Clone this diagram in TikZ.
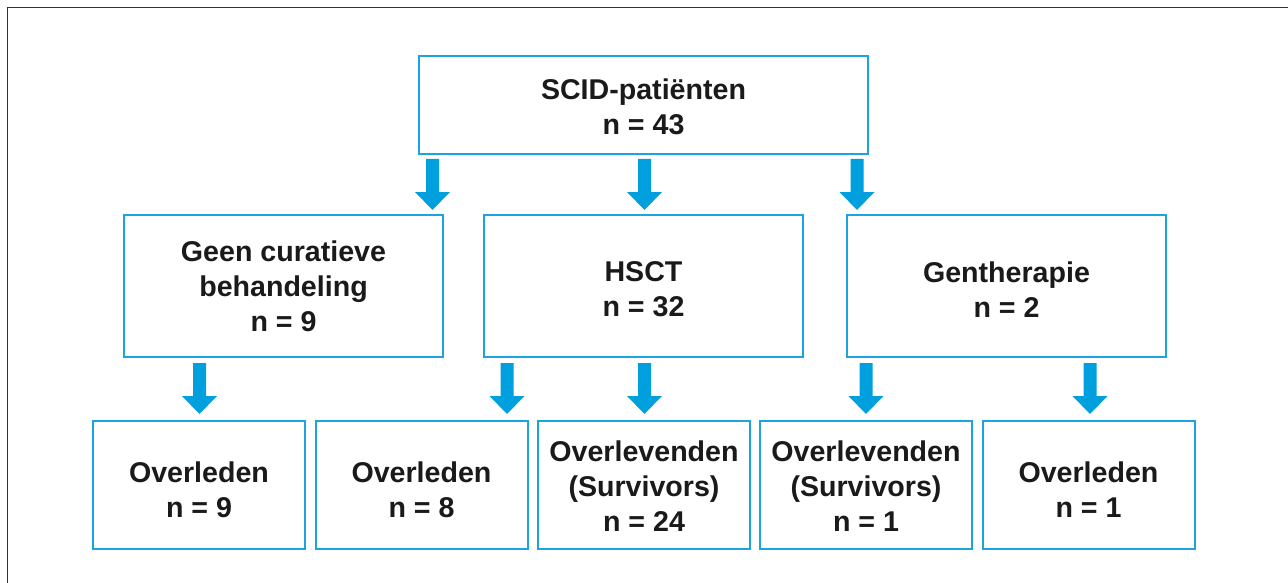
\documentclass[tikz,border=0pt]{standalone}
\usepackage{fontspec}
\setmainfont{Liberation Sans}
\definecolor{boxc}{HTML}{1DA3E0}
\definecolor{arrc}{HTML}{009FDE}
\definecolor{framec}{HTML}{333333}
\definecolor{txtc}{HTML}{1A1A1A}
\tikzset{
  fbox/.style={draw=boxc, line width=2pt, fill=white, inner sep=0pt},
  topbox/.style={fbox, minimum width=449pt, minimum height=98pt},
  midbox/.style={fbox, minimum width=319pt, minimum height=142pt},
  botbox/.style={fbox, minimum width=212pt, minimum height=128pt},
  txt/.style={align=center, inner sep=0pt, text=txtc,
    font=\fontsize{28.6}{35.2}\selectfont\bfseries},
  blockarr/.style={fill=arrc, draw=none}
}
\newcommand\bluearrow[2]{%
  \fill[blockarr] (#1-6.5,#2) -- (#1+6.5,#2) -- (#1+6.5,#2+33) -- (#1+17.5,#2+33)
    -- (#1,#2+51) -- (#1-17.5,#2+33) -- (#1-6.5,#2+33) -- cycle;}
\begin{document}
\begin{tikzpicture}[x=1pt,y=-1pt]
\useasboundingbox (0,0) rectangle (1288,583);
\fill[white] (0,0) rectangle (1288,583);
\draw[framec, line width=1.3pt] (7.5,583) -- (7.5,7.5) -- (1288,7.5);
% top
\node[topbox] (top) at (643.5,105) {};
\node[txt] (toptxt) at ([yshift=-2pt]top.center) {SCID-patiënten\\n = 43};
% middle
\node[midbox] (geen) at (283.5,286) {};
\node[midbox] (hsct) at (643.5,286) {};
\node[midbox] (gen) at (1006.5,286) {};
\node[txt] (geentxt) at ([yshift=-0.5pt]geen.center) {Geen curatieve\\behandeling\\n = 9};
\node[txt] (hscttxt) at ([yshift=-3.5pt]hsct.center) {HSCT\\n = 32};
\node[txt] (gentxt) at ([yshift=-3.5pt]gen.center) {Gentherapie\\n = 2};
% bottom
\node[botbox] (b1) at (199,485) {};
\node[botbox] (b2) at (421.5,485) {};
\node[botbox] (b3) at (644,485) {};
\node[botbox] (b4) at (866,485) {};
\node[botbox] (b5) at (1088.5,485) {};
\node[txt] (b1txt) at ([yshift=-4.5pt]b1.center) {Overleden\\n = 9};
\node[txt] (b2txt) at ([yshift=-4.5pt]b2.center) {Overleden\\n = 8};
\node[txt] (b3txt) at ([yshift=-1pt]b3.center) {Overlevenden\\(Survivors)\\n = 24};
\node[txt] (b4txt) at ([yshift=-1pt]b4.center) {Overlevenden\\(Survivors)\\n = 1};
\node[txt] (b5txt) at ([yshift=-4.5pt]b5.center) {Overleden\\n = 1};
% arrows
\bluearrow{432.5}{159}
\bluearrow{644.5}{159}
\bluearrow{857}{159}
\bluearrow{199.5}{363}
\bluearrow{507}{363}
\bluearrow{644.5}{363}
\bluearrow{866}{363}
\bluearrow{1090}{363}
\end{tikzpicture}
\end{document}
